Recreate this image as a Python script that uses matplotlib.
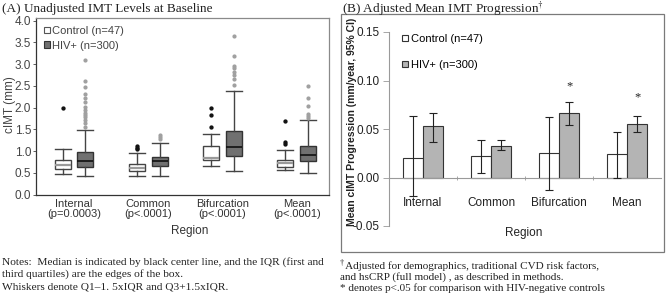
import matplotlib
matplotlib.use("Agg")
import matplotlib.pyplot as plt
from matplotlib.patches import Patch, Rectangle
import numpy as np

plt.rcParams['mathtext.fontset'] = 'stix'
plt.rcParams['font.family'] = ['Liberation Sans', 'DejaVu Sans']

# ---------------- data: panel A (box plots) ----------------
regions = ["Internal", "Common", "Bifurcation", "Mean"]
pvals = ["(p=0.0003)", "(p<.0001)", "(p<.0001)", "(p<.0001)"]

ctrl_whislo = [0.47, 0.43, 0.65, 0.57]
ctrl_q1 = [0.58, 0.53, 0.80, 0.64]
ctrl_med = [0.68, 0.61, 0.84, 0.73]
ctrl_q3 = [0.80, 0.70, 1.11, 0.80]
ctrl_whishi = [1.05, 0.96, 1.40, 1.02]
ctrl_fliers = [[1.99], [1.05, 1.08, 1.11], [2.00, 1.84, 1.55], [1.70, 1.20, 1.16]]

hiv_whislo = [0.43, 0.43, 0.53, 0.50]
hiv_q1 = [0.63, 0.65, 0.88, 0.76]
hiv_med = [0.76, 0.77, 1.10, 0.90]
hiv_q3 = [0.98, 0.87, 1.47, 1.12]
hiv_whishi = [1.48, 1.18, 2.37, 1.71]
hiv_fliers = [
    [3.09, 2.62, 2.48, 2.31, 2.22, 2.12, 2.02, 1.94, 1.87, 1.82, 1.78, 1.72, 1.64, 1.56],
    [1.27, 1.32, 1.37],
    [3.65, 3.18, 2.95, 2.90, 2.81, 2.74, 2.65, 2.52],
    [2.50, 2.22, 2.04, 1.85, 1.81, 1.77],
]

# ---------------- data: panel B (bar chart) ----------------
ctrl_prog = [0.020, 0.022, 0.025, 0.024]
ctrl_lo = [-0.019, 0.005, -0.013, 0.000]
ctrl_hi = [0.063, 0.039, 0.062, 0.047]
hiv_prog = [0.053, 0.032, 0.067, 0.055]
hiv_lo = [0.037, 0.028, 0.054, 0.047]
hiv_hi = [0.067, 0.039, 0.078, 0.063]
sig_star_y = [None, None, 0.094, 0.083]

W, H = 666, 304
fig = plt.figure(figsize=(W / 100, H / 100), dpi=100)

SERIF = "Liberation Serif"
TXT = "#333333"


def fx(px):
    return px / W


def fy(py):
    return 1 - py / H


# ================= Panel A =================
axA = fig.add_axes([fx(36), fy(194.5), fx(329 - 36), (194.5 - 18) / H])
x = np.arange(len(regions))
off = 0.152
bw = 0.216


def stats(lo, q1, med, q3, hi, fl):
    return [dict(whislo=a, q1=b, med=c, q3=d, whishi=e, fliers=f)
            for a, b, c, d, e, f in zip(lo, q1, med, q3, hi, fl)]


axA.bxp(stats(ctrl_whislo, ctrl_q1, ctrl_med, ctrl_q3, ctrl_whishi, ctrl_fliers),
        positions=x - off, widths=bw, capwidths=bw, patch_artist=True,
        boxprops=dict(facecolor="white", edgecolor="#444444", linewidth=1.0),
        medianprops=dict(color="#9a9a9a", linewidth=1.6),
        whiskerprops=dict(color="#444444", linewidth=1.0),
        capprops=dict(color="#444444", linewidth=1.0),
        flierprops=dict(marker="o", markersize=2.1, markerfacecolor="#111111",
                        markeredgecolor="#111111"))
axA.bxp(stats(hiv_whislo, hiv_q1, hiv_med, hiv_q3, hiv_whishi, hiv_fliers),
        positions=x + off, widths=bw, capwidths=bw, patch_artist=True,
        boxprops=dict(facecolor="#707070", edgecolor="#333333", linewidth=1.0),
        medianprops=dict(color="#111111", linewidth=1.2),
        whiskerprops=dict(color="#444444", linewidth=1.0),
        capprops=dict(color="#444444", linewidth=1.0),
        flierprops=dict(marker="o", markersize=2.0, markerfacecolor="#a0a0a0",
                        markeredgecolor="#a0a0a0"))

axA.set_xlim(-0.513, 3.435)
axA.set_ylim(0, 4.06)
axA.set_yticks(np.arange(0, 4.01, 0.5))
axA.set_yticklabels([f"{v:.1f}" for v in np.arange(0, 4.01, 0.5)])
axA.set_xticks(x)
axA.set_xticklabels([f"{r}\n{p}" for r, p in zip(regions, pvals)], linespacing=1.05)
axA.tick_params(axis="x", length=0, pad=3, labelsize=8, labelcolor=TXT)
axA.tick_params(axis="y", length=2.5, width=0.6, pad=1, labelsize=8.5,
                labelcolor="#444444", color="#444444")
for s in ["left", "bottom"]:
    axA.spines[s].set_color("#333333")
    axA.spines[s].set_linewidth(0.9)
for s in ["top", "right"]:
    axA.spines[s].set_color("#8a8a8a")
    axA.spines[s].set_linewidth(0.9)
fig.text(fx(10), fy(105), "cIMT (mm)", rotation=90, ha="center", va="center",
         fontsize=8.5, color="#444444")
fig.text(fx(190), fy(231), "Region", ha="center", va="center",
         fontsize=8.5, color=TXT)
legA = axA.legend(handles=[Patch(facecolor="white", edgecolor="#555555", linewidth=0.8),
                           Patch(facecolor="#707070", edgecolor="#333333", linewidth=0.8)],
                  labels=["Control (n=47)", "HIV+ (n=300)"],
                  loc="upper left", bbox_to_anchor=(0.0, 1.0), frameon=False,
                  prop=dict(size=8), handlelength=0.55, handleheight=0.55,
                  handletextpad=0.2, labelspacing=0.45, borderaxespad=0.3)
for t in legA.get_texts():
    t.set_color("#444444")

fig.text(fx(2), fy(9), "(A) Unadjusted IMT Levels at Baseline", ha="left", va="center",
         family=SERIF, fontsize=9.5, color="#222222")

# ================= Panel B =================
fig.patches.append(Rectangle((fx(341), fy(252)), fx(664 - 341), (252 - 14) / H,
                             transform=fig.transFigure, fill=False,
                             edgecolor="#7a7a7a", linewidth=0.9))
axB = fig.add_axes([fx(389), fy(226), fx(661 - 389), (226 - 32) / H])
bwB = 0.295
axB.bar(x - bwB / 2, ctrl_prog, width=bwB, color="white", edgecolor="#333333",
        linewidth=0.8, zorder=2)
axB.bar(x + bwB / 2, hiv_prog, width=bwB, color="#b4b4b4", edgecolor="#333333",
        linewidth=0.8, zorder=2)
axB.errorbar(x - bwB / 2, ctrl_prog,
             yerr=[np.array(ctrl_prog) - np.array(ctrl_lo), np.array(ctrl_hi) - np.array(ctrl_prog)],
             fmt="none", ecolor="#222222", elinewidth=0.8, capsize=3, capthick=0.8, zorder=3)
axB.errorbar(x + bwB / 2, hiv_prog,
             yerr=[np.array(hiv_prog) - np.array(hiv_lo), np.array(hiv_hi) - np.array(hiv_prog)],
             fmt="none", ecolor="#222222", elinewidth=0.8, capsize=3, capthick=0.8, zorder=3)
for i, sy in enumerate(sig_star_y):
    if sy is not None:
        axB.text(x[i] + bwB / 2, sy, "*", ha="center", va="center",
                 family=SERIF, fontsize=9, color="#222222")

axB.set_xlim(-0.5, 3.5)
axB.set_ylim(-0.05, 0.15)
yt = [-0.05, 0.0, 0.05, 0.10, 0.15]
axB.spines["bottom"].set_position(("data", 0))
axB.set_yticks(yt)
axB.set_yticklabels([f"{v:.2f}" for v in yt])
axB.set_xticks(x)
axB.set_xticklabels(regions)
axB.set_xticks([0.5, 1.5, 2.5], minor=True)
axB.tick_params(axis="x", which="major", length=0, pad=14, labelsize=8.5, labelcolor="#222222")
axB.tick_params(axis="x", which="minor", length=3, width=0.6, color="#999999", direction="inout")
axB.tick_params(axis="y", length=4, width=0.6, color="#999999", pad=3, labelsize=8.5,
                labelcolor="#222222")
for s in ["top", "right"]:
    axB.spines[s].set_visible(False)
axB.spines["bottom"].set_color("#9a9a9a")
axB.spines["left"].set_color("#9a9a9a")
axB.spines["bottom"].set_linewidth(0.8)
axB.spines["left"].set_linewidth(0.8)
axB.patch.set_alpha(0)

fig.text(fx(524), fy(233), "Region", ha="center", va="center",
         fontsize=8.5, color="#222222")
fig.text(fx(352), fy(122), "Mean cIMT Progression (mm/year, 95% CI)", rotation=90,
         ha="center", va="center", fontsize=7.5, fontweight="bold",
         color="#222222")
legB = axB.legend(handles=[Patch(facecolor="white", edgecolor="#333333", linewidth=0.8),
                           Patch(facecolor="#b4b4b4", edgecolor="#333333", linewidth=0.8)],
                  labels=["Control (n=47)", "HIV+ (n=300)"],
                  loc="upper left", bbox_to_anchor=(0.02, 1.03), frameon=False,
                  prop=dict(size=8), handlelength=0.55, handleheight=0.55,
                  handletextpad=0.2, labelspacing=1.45, borderaxespad=0.3)
fig.text(fx(342), fy(9), "(B) Adjusted Mean IMT Progression$^{\\dagger}$", ha="left",
         va="center", family=SERIF, fontsize=9.5, color="#222222")

# ================= notes =================
notesL = ["Notes:  Median is indicated by black center line, and the IQR (first and",
          "third quartiles) are the edges of the box.",
          "Whiskers denote Q1\u20131. 5xIQR and Q3+1.5xIQR."]
for t, yy in zip(notesL, [262, 274, 287]):
    fig.text(fx(2), fy(yy), t, ha="left", va="center", family=SERIF, fontsize=8.2,
             color="#222222")
fig.text(fx(340), fy(263), "\u2020", ha="left", va="center", family=SERIF, fontsize=6,
         color="#222222")
notesR = [" Adjusted for demographics, traditional CVD risk factors,",
          "and hsCRP (full model) , as described in methods.",
          "* denotes p<.05 for comparison with HIV-negative controls"]
notesR_x = [343, 340, 340]
for t, xx, yy in zip(notesR, notesR_x, [266, 277, 288]):
    fig.text(fx(xx), fy(yy), t, ha="left", va="center", family=SERIF, fontsize=8,
             color="#222222")

fig.savefig("out.png", dpi=100)
